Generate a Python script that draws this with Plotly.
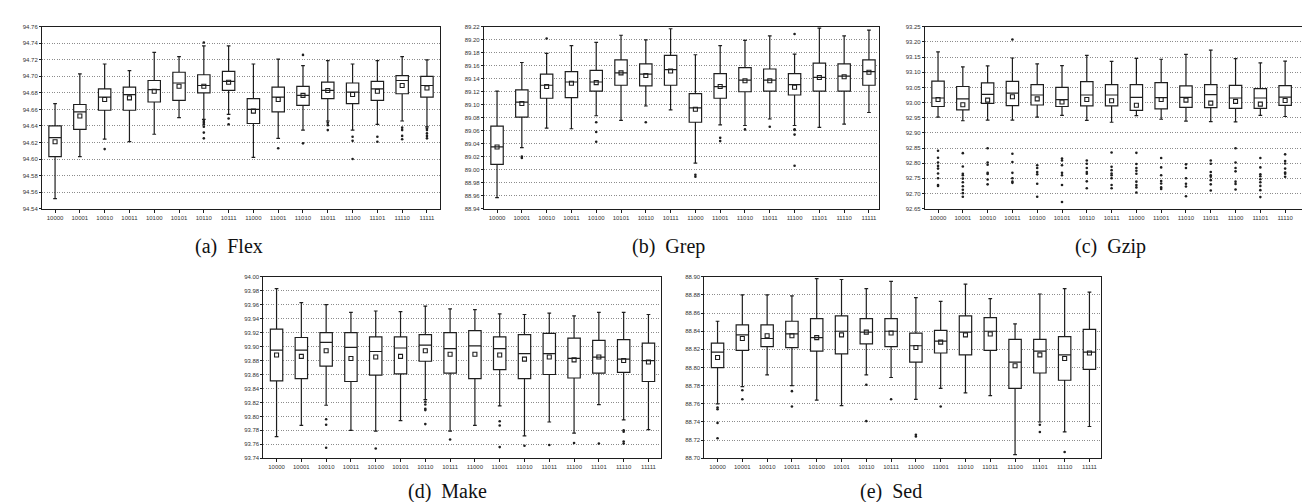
import plotly.graph_objects as go

cats = ["10000", "10001", "10010", "10011", "10100", "10101", "10110", "10111",
        "11000", "11001", "11010", "11011", "11100", "11101", "11110", "11111"]

# ---------------- (a) Flex ----------------
flex_low = [94.552, 94.603, 94.624, 94.621, 94.630, 94.650, 94.648, 94.654, 94.602, 94.625, 94.635, 94.646, 94.635, 94.642, 94.646, 94.639]
flex_q1 = [94.603, 94.636, 94.659, 94.659, 94.669, 94.671, 94.680, 94.683, 94.643, 94.657, 94.665, 94.673, 94.667, 94.671, 94.679, 94.675]
flex_med = [94.626, 94.657, 94.675, 94.678, 94.684, 94.692, 94.689, 94.694, 94.660, 94.675, 94.677, 94.683, 94.681, 94.685, 94.695, 94.689]
flex_q3 = [94.640, 94.666, 94.685, 94.687, 94.695, 94.705, 94.702, 94.706, 94.673, 94.687, 94.688, 94.693, 94.692, 94.694, 94.701, 94.700]
flex_high = [94.667, 94.703, 94.715, 94.707, 94.729, 94.724, 94.737, 94.737, 94.715, 94.721, 94.713, 94.719, 94.715, 94.719, 94.724, 94.720]
flex_mean = [94.621, 94.652, 94.672, 94.674, 94.682, 94.688, 94.688, 94.693, 94.658, 94.672, 94.677, 94.683, 94.678, 94.682, 94.689, 94.686]
flex_out = [[], [], [94.612], [], [], [],
            [94.741, 94.646, 94.644, 94.642, 94.639, 94.632, 94.625],
            [94.649, 94.642], [], [94.613], [94.726, 94.619],
            [94.644, 94.641, 94.635], [94.627, 94.622, 94.600],
            [94.627, 94.621], [94.638, 94.635, 94.628, 94.624],
            [94.637, 94.635, 94.631, 94.628, 94.625]]

# ---------------- (b) Grep ----------------
grep_low = [88.957, 89.034, 89.064, 89.063, 89.083, 89.076, 89.098, 89.092, 89.010, 89.069, 89.068, 89.078, 89.068, 89.065, 89.070, 89.088]
grep_q1 = [89.008, 89.081, 89.110, 89.111, 89.121, 89.130, 89.129, 89.130, 89.073, 89.110, 89.120, 89.121, 89.115, 89.121, 89.121, 89.130]
grep_med = [89.035, 89.104, 89.130, 89.135, 89.135, 89.149, 89.147, 89.154, 89.095, 89.128, 89.138, 89.138, 89.131, 89.142, 89.144, 89.151]
grep_q3 = [89.067, 89.123, 89.147, 89.151, 89.153, 89.169, 89.163, 89.176, 89.117, 89.148, 89.157, 89.155, 89.148, 89.164, 89.163, 89.169]
grep_high = [89.121, 89.165, 89.179, 89.191, 89.196, 89.207, 89.200, 89.217, 89.177, 89.191, 89.199, 89.206, 89.178, 89.218, 89.206, 89.215]
grep_mean = [89.035, 89.102, 89.128, 89.133, 89.134, 89.149, 89.145, 89.152, 89.093, 89.128, 89.137, 89.137, 89.127, 89.142, 89.143, 89.150]
grep_out = [[], [89.020, 89.018], [89.202], [], [89.073, 89.058, 89.043], [],
            [89.073], [], [88.992, 88.989], [89.049, 89.044], [89.062], [89.066],
            [89.209, 89.062, 89.061, 89.054, 89.006], [], [], []]

# ---------------- (c) Gzip ----------------
gzip_low = [92.952, 92.940, 92.942, 92.942, 92.952, 92.958, 92.941, 92.935, 92.957, 92.945, 92.939, 92.937, 92.936, 92.958, 92.954, 92.940]
gzip_q1 = [92.987, 92.976, 92.997, 92.990, 92.992, 92.987, 92.989, 92.989, 92.974, 92.979, 92.984, 92.983, 92.981, 92.981, 92.991, 92.973]
gzip_med = [93.015, 93.012, 93.027, 93.031, 93.025, 93.010, 93.025, 93.025, 93.017, 93.016, 93.017, 93.026, 93.015, 93.015, 93.018, 93.010]
gzip_q3 = [93.071, 93.053, 93.065, 93.070, 93.059, 93.050, 93.069, 93.059, 93.059, 93.066, 93.055, 93.059, 93.057, 93.046, 93.056, 93.056]
gzip_high = [93.167, 93.118, 93.121, 93.147, 93.128, 93.122, 93.156, 93.136, 93.146, 93.143, 93.159, 93.173, 93.145, 93.131, 93.137, 93.118]
gzip_mean = [93.010, 92.993, 93.008, 93.019, 93.012, 93.002, 93.010, 93.006, 92.991, 93.010, 93.008, 92.998, 93.004, 92.995, 93.007, 92.991]
gzip_out = [
    [92.841, 92.818, 92.802, 92.791, 92.782, 92.766, 92.750, 92.728, 92.725],
    [92.833, 92.789, 92.765, 92.760, 92.749, 92.737, 92.724, 92.712, 92.701, 92.689],
    [92.849, 92.802, 92.795, 92.768, 92.764, 92.746, 92.730],
    [93.208, 92.831, 92.804, 92.768, 92.750, 92.739, 92.735],
    [92.793, 92.784, 92.771, 92.763, 92.732, 92.689],
    [92.815, 92.809, 92.793, 92.768, 92.760, 92.728, 92.672],
    [92.809, 92.798, 92.784, 92.771, 92.765, 92.740, 92.717],
    [92.835, 92.788, 92.777, 92.766, 92.760, 92.750, 92.728, 92.717],
    [92.834, 92.797, 92.784, 92.775, 92.765, 92.739, 92.728, 92.720, 92.703],
    [92.817, 92.786, 92.760, 92.741, 92.733, 92.720, 92.715],
    [92.796, 92.784, 92.750, 92.732, 92.723, 92.691],
    [92.809, 92.798, 92.771, 92.760, 92.755, 92.744, 92.730, 92.710],
    [92.849, 92.802, 92.784, 92.773, 92.739, 92.731, 92.713],
    [92.817, 92.786, 92.763, 92.757, 92.747, 92.737, 92.725, 92.711, 92.688],
    [92.829, 92.807, 92.799, 92.782, 92.769, 92.765, 92.755],
    [92.782, 92.771, 92.752, 92.745, 92.741, 92.728, 92.723]]

# ---------------- (d) Make ----------------
make_low = [93.771, 93.787, 93.816, 93.780, 93.779, 93.794, 93.824, 93.779, 93.787, 93.815, 93.772, 93.792, 93.776, 93.817, 93.795, 93.781]
make_q1 = [93.851, 93.854, 93.872, 93.850, 93.859, 93.861, 93.879, 93.862, 93.854, 93.867, 93.854, 93.860, 93.855, 93.862, 93.863, 93.850]
make_med = [93.895, 93.895, 93.906, 93.899, 93.893, 93.898, 93.902, 93.897, 93.901, 93.897, 93.890, 93.890, 93.883, 93.885, 93.882, 93.880]
make_q3 = [93.925, 93.913, 93.920, 93.920, 93.914, 93.914, 93.917, 93.920, 93.923, 93.914, 93.917, 93.919, 93.912, 93.909, 93.910, 93.905]
make_high = [93.983, 93.963, 93.960, 93.949, 93.951, 93.950, 93.958, 93.954, 93.953, 93.947, 93.946, 93.948, 93.944, 93.949, 93.949, 93.946]
make_mean = [93.888, 93.886, 93.894, 93.883, 93.885, 93.886, 93.894, 93.889, 93.889, 93.888, 93.882, 93.885, 93.881, 93.885, 93.880, 93.878]
make_out = [[], [], [93.796, 93.788, 93.755], [], [93.754], [],
            [93.821, 93.817, 93.811, 93.809, 93.789], [93.767], [],
            [93.793, 93.787, 93.756], [93.758], [93.759], [93.762], [93.761],
            [93.780, 93.778, 93.764, 93.761], []]

# ---------------- (e) Sed ----------------
sed_low = [88.760, 88.779, 88.792, 88.780, 88.764, 88.758, 88.792, 88.789, 88.765, 88.777, 88.772, 88.769, 88.704, 88.740, 88.729, 88.735]
sed_q1 = [88.800, 88.819, 88.823, 88.822, 88.818, 88.815, 88.826, 88.823, 88.806, 88.816, 88.814, 88.819, 88.777, 88.794, 88.786, 88.798]
sed_med = [88.817, 88.836, 88.832, 88.837, 88.833, 88.840, 88.839, 88.840, 88.824, 88.829, 88.839, 88.840, 88.806, 88.818, 88.814, 88.817]
sed_q3 = [88.827, 88.847, 88.847, 88.851, 88.854, 88.857, 88.854, 88.854, 88.838, 88.841, 88.857, 88.855, 88.831, 88.831, 88.834, 88.842]
sed_high = [88.851, 88.880, 88.880, 88.879, 88.898, 88.897, 88.887, 88.895, 88.877, 88.873, 88.892, 88.876, 88.848, 88.881, 88.887, 88.883]
sed_mean = [88.811, 88.832, 88.835, 88.835, 88.833, 88.836, 88.839, 88.838, 88.822, 88.828, 88.836, 88.837, 88.802, 88.814, 88.810, 88.816]
sed_out = [[88.756, 88.754, 88.739, 88.722], [88.775, 88.765], [], [88.774, 88.757],
           [], [], [88.781, 88.741], [88.765], [88.726, 88.724], [88.757], [], [],
           [], [88.737, 88.729], [88.707], []]

captions = ["(a)\u00a0 Flex", "(b)\u00a0 Grep", "(c)\u00a0 Gzip", "(d)\u00a0 Make", "(e)\u00a0 Sed"]
y_ranges = [[94.54, 94.76], [88.94, 89.22], [92.65, 93.25], [93.74, 94.00], [88.70, 88.90]]
y_steps = [0.02, 0.02, 0.05, 0.02, 0.02]

W, H = 1310, 502
# pixel layout of each panel: (left, right, top, bottom); caption centre x and bottom y
boxes_px = [(34, 433, 16, 200), (477, 873, 16, 200), (919, 1310, 16, 200),
            (256, 654, 269, 452.7), (698, 1096, 269, 452.7)]
cap_px = [(221.5, 251), (662, 251), (1105, 251), (441, 499), (885, 499)]

panels = [
    (flex_low, flex_q1, flex_med, flex_q3, flex_high, flex_mean, flex_out),
    (grep_low, grep_q1, grep_med, grep_q3, grep_high, grep_mean, grep_out),
    (gzip_low, gzip_q1, gzip_med, gzip_q3, gzip_high, gzip_mean, gzip_out),
    (make_low, make_q1, make_med, make_q3, make_high, make_mean, make_out),
    (sed_low, sed_q1, sed_med, sed_q3, sed_high, sed_mean, sed_out),
]

INK = "#1e1e1e"
tickfont = dict(family="Liberation Sans, Arial, sans-serif", size=6, color="#333")

fig = go.Figure()
layout = dict(width=W, height=H, margin=dict(l=0, r=0, t=0, b=0), autosize=False,
              paper_bgcolor="white", plot_bgcolor="white", showlegend=False,
              annotations=[])

for i, (lo, q1, med, q3, hi, mean, out) in enumerate(panels):
    n = i + 1
    xa, ya = f"x{n}", f"y{n}"
    fig.add_trace(go.Box(x=cats, q1=q1, median=med, q3=q3, lowerfence=lo, upperfence=hi,
                         boxpoints=False, width=0.5, whiskerwidth=0.3,
                         fillcolor="white", line=dict(color=INK, width=1.2),
                         xaxis=xa, yaxis=ya, hoverinfo="skip"))
    ox, oy = [], []
    for c, vals in zip(cats, out):
        for v in vals:
            ox.append(c)
            oy.append(v)
    fig.add_trace(go.Scatter(x=ox, y=oy, mode="markers", xaxis=xa, yaxis=ya,
                             marker=dict(symbol="circle", size=2.6, color=INK),
                             hoverinfo="skip"))
    fig.add_trace(go.Scatter(x=cats, y=mean, mode="markers", xaxis=xa, yaxis=ya,
                             marker=dict(symbol="square-open", size=4, color=INK,
                                         line=dict(width=1.1, color=INK)),
                             hoverinfo="skip"))

    L, R, T, B = boxes_px[i]
    spacing = 24.85
    x_lo = -0.53
    x_hi = x_lo + (R - L) / spacing
    clipped = R >= W
    layout[f"xaxis{n}"] = dict(domain=[L / W, min(R / W, 1.0)], anchor=ya,
                               type="category", categoryorder="array", categoryarray=cats,
                               range=[x_lo, x_hi], showline=True, linecolor=INK, linewidth=1,
                               mirror=True, ticks="outside", ticklen=3, tickcolor=INK,
                               tickfont=tickfont, showgrid=False, zeroline=False)
    layout[f"yaxis{n}"] = dict(domain=[1 - B / H, 1 - T / H], anchor=xa,
                               range=y_ranges[i], tick0=y_ranges[i][0], dtick=y_steps[i],
                               tickformat=".2f", showline=True, linecolor=INK, linewidth=1,
                               mirror=not clipped, ticks="outside", ticklen=2, tickcolor=INK,
                               tickfont=tickfont, showgrid=True, gridcolor="#8c8c8c",
                               gridwidth=1, griddash="1px,1.5px", zeroline=False)
    cx, cb = cap_px[i]
    layout["annotations"].append(dict(text=captions[i], xref="paper", yref="paper",
                                      x=cx / W, y=1 - cb / H, xanchor="center", yanchor="bottom",
                                      showarrow=False, borderpad=0,
                                      font=dict(family="Liberation Serif, Times New Roman, serif",
                                                size=20, color="#111")))

fig.update_layout(**layout)
fig.write_html("out.html")
